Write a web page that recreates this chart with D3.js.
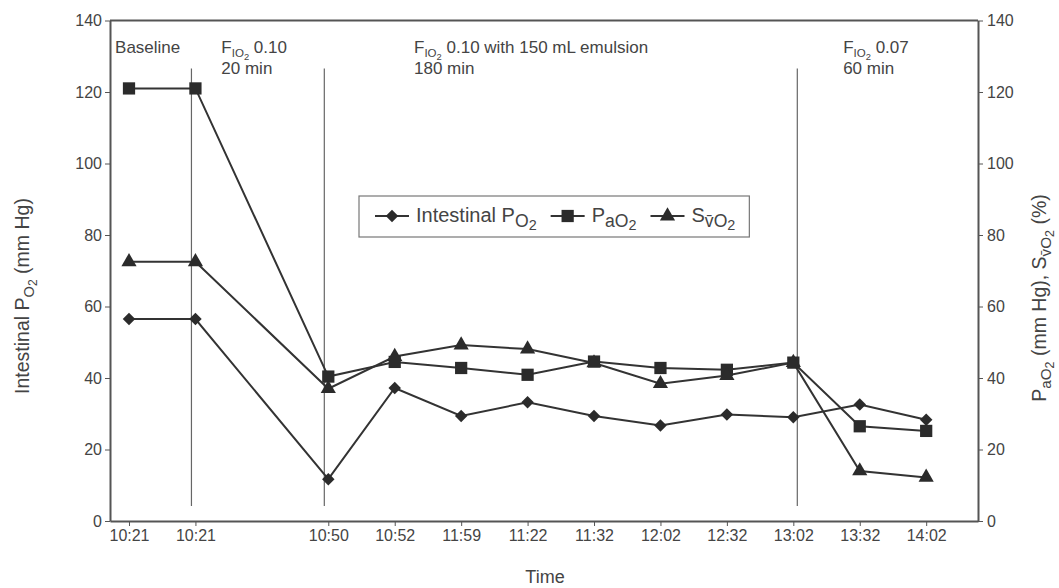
<!DOCTYPE html>
<html lang='en'>
  <head>
    <meta charset='utf-8'>
    <title>Intestinal PO2</title>
    <script type='text/javascript' src='https://cdnjs.cloudflare.com/ajax/libs/d3/7.8.5/d3.min.js'></script>
    <style type='text/css'>
      body { margin: 0; background: white; font-family: 'Liberation Sans', Arial, sans-serif; }
      svg { background-color: white; display: block; }
      .axis text { font-size: 16px; fill: #444; font-family: 'Liberation Sans', Arial, sans-serif; }
      .axis path, .axis line { stroke: #555; }
    </style>
  </head>
  <body>
    <div id='chart'></div>
    <script type='text/javascript'>

    // data
    var timeLabels = ['10:21', '10:21', '10:50', '10:52', '11:59', '11:22', '11:32', '12:02', '12:32', '13:02', '13:32', '14:02'];
    var timeSlots  = [0, 1, 3, 4, 5, 6, 7, 8, 9, 10, 11, 12];   // slot 2 is left empty on the axis
    var intestinalPO2 = [56.5, 56.5, 11.7, 37.2, 29.4, 33.2, 29.4, 26.7, 29.8, 29.0, 32.6, 28.3];
    var paO2          = [121, 121, 40.4, 44.5, 42.8, 40.9, 44.6, 42.8, 42.3, 44.3, 26.5, 25.2];
    var svO2          = [72.5, 72.5, 37.0, 46.0, 49.2, 48.1, 44.2, 38.4, 40.7, 44.3, 14.0, 12.2];
    var yTicks = [0, 20, 40, 60, 80, 100, 120, 140];
    var phaseLines = [0.94, 2.94, 10.06];

    // layout
    var W = 1059, H = 588;
    var mLeft = 110, mRight = 978, mTop = 20.5, mBottom = 521;

    var svg = d3.select('#chart').append('svg')
      .attr('width', W).attr('height', H);

    var x = d3.scaleLinear().domain([-0.286, 12.78]).range([mLeft, mRight]);
    var y = d3.scaleLinear().domain([0, 140]).range([mBottom, mTop]);

    // text with subscripts: parts = [[string, level], ...]
    function rich(sel, parts, size, k1, k2) {
      k1 = k1 || 0.72; k2 = k2 || 0.6;
      var cur = 0;
      parts.forEach(function(p) {
        var lvl = p[1];
        var shift = lvl === 0 ? 0 : (lvl === 1 ? 0.24 * size : 0.4 * size);
        var fs = lvl === 0 ? size : (lvl === 1 ? size * k1 : size * k2);
        sel.append('tspan')
          .attr('dy', shift - cur)
          .style('font-size', fs + 'px')
          .text(p[0]);
        cur = shift;
      });
    }

    // marker shapes: diamond is a square turned 45 degrees
    function marker(sel, kind, px, py) {
      var sym = kind === 'square' ? d3.symbolSquare : (kind === 'triangle' ? d3.symbolTriangle : d3.symbolSquare);
      var size = kind === 'square' ? 150 : (kind === 'triangle' ? 100 : 78);
      sel.attr('d', d3.symbol().type(sym).size(size))
        .attr('transform', 'translate(' + px + ',' + py + ')' + (kind === 'diamond' ? ' rotate(45)' : ''))
        .attr('fill', '#2b2b2b');
    }

    // phase boundary lines
    svg.append('g').selectAll('line')
      .data(phaseLines)
      .enter().append('line')
      .attr('x1', function(d) { return x(d); })
      .attr('x2', function(d) { return x(d); })
      .attr('y1', y(126.6))
      .attr('y2', y(4.2))
      .attr('stroke', '#666')
      .attr('stroke-width', 1.2);

    // axes
    var xAxis = d3.axisBottom(x)
      .tickValues(timeSlots)
      .tickFormat(function(d, i) { return timeLabels[i]; })
      .tickSize(5).tickSizeOuter(0).tickPadding(4);
    svg.append('g').attr('class', 'axis')
      .attr('transform', 'translate(0,' + mBottom + ')')
      .call(xAxis);

    var yLeft = d3.axisLeft(y).tickValues(yTicks).tickSize(5).tickSizeOuter(0).tickPadding(3);
    svg.append('g').attr('class', 'axis')
      .attr('transform', 'translate(' + mLeft + ',0)')
      .call(yLeft);

    var yRight = d3.axisRight(y).tickValues(yTicks).tickSize(5).tickSizeOuter(0).tickPadding(4);
    svg.append('g').attr('class', 'axis')
      .attr('transform', 'translate(' + mRight + ',0)')
      .call(yRight);

    // top frame
    svg.append('line')
      .attr('x1', mLeft).attr('x2', mRight).attr('y1', mTop).attr('y2', mTop)
      .attr('stroke', '#555').attr('stroke-width', 2);
    svg.selectAll('.axis path').attr('stroke-width', 2);

    // series
    var series = [
      { name: 'intestinal', values: intestinalPO2, kind: 'diamond' },
      { name: 'pao2', values: paO2, kind: 'square' },
      { name: 'svo2', values: svO2, kind: 'triangle' }
    ];

    var line = d3.line()
      .x(function(d, i) { return x(timeSlots[i]); })
      .y(function(d) { return y(d); });

    series.forEach(function(s) {
      svg.append('path')
        .datum(s.values)
        .attr('d', line)
        .attr('fill', 'none')
        .attr('stroke', '#333')
        .attr('stroke-width', 2);
    });
    series.forEach(function(s) {
      svg.append('g').selectAll('path')
        .data(s.values)
        .enter().append('path')
        .each(function(d, i) { marker(d3.select(this), s.kind, x(timeSlots[i]), y(d)); });
    });

    // phase annotations
    var notes = [
      { at: -0.21, lines: [[['Baseline', 0]]] },
      { at: 1.39,  lines: [[['F', 0], ['IO', 1], ['2', 2], [' 0.10', 0]], [['20 min', 0]]] },
      { at: 4.29,  lines: [[['F', 0], ['IO', 1], ['2', 2], [' 0.10 with 150 mL emulsion', 0]], [['180 min', 0]]] },
      { at: 10.75, lines: [[['F', 0], ['IO', 1], ['2', 2], [' 0.07', 0]], [['60 min', 0]]] }
    ];
    notes.forEach(function(n) {
      n.lines.forEach(function(parts, k) {
        var t = svg.append('text')
          .attr('x', x(n.at))
          .attr('y', 53 + k * 21)
          .attr('fill', '#444');
        rich(t, parts, 17, 0.68, 0.55);
      });
    });

    // axis titles
    svg.append('text')
      .attr('x', (mLeft + mRight) / 2 + 1)
      .attr('y', 583)
      .attr('text-anchor', 'middle')
      .attr('fill', '#444')
      .style('font-size', '18px')
      .text('Time');

    var lt = svg.append('text')
      .attr('transform', 'translate(29,' + 296 + ') rotate(-90)')
      .attr('text-anchor', 'middle')
      .attr('fill', '#444');
    rich(lt, [['Intestinal P', 0], ['O', 1], ['2', 2], [' (mm Hg)', 0]], 19.5, 0.75, 0.62);

    var rt = svg.append('text')
      .attr('transform', 'translate(1046,' + 298 + ') rotate(-90)')
      .attr('text-anchor', 'middle')
      .attr('fill', '#444');
    rich(rt, [['P', 0], ['aO', 1], ['2', 2], [' (mm Hg), S', 0], ['v\u0304O', 1], ['2', 2], [' (%)', 0]], 19.5, 0.78, 0.64);

    // legend
    var legendItems = [
      { parts: [['Intestinal P', 0], ['O', 1], ['2', 2]], kind: 'diamond' },
      { parts: [['P', 0], ['aO', 1], ['2', 2]], kind: 'square' },
      { parts: [['S', 0], ['v\u0304O', 1], ['2', 2]], kind: 'triangle' }
    ];
    var lg = svg.append('g');
    var box = lg.append('rect')
      .attr('x', 359).attr('y', 196).attr('height', 41)
      .attr('fill', 'white').attr('stroke', '#777').attr('stroke-width', 1.2);
    var cx = 375, cy = 216;
    legendItems.forEach(function(it) {
      lg.append('line')
        .attr('x1', cx).attr('x2', cx + 34).attr('y1', cy).attr('y2', cy)
        .attr('stroke', '#333').attr('stroke-width', 2);
      marker(lg.append('path'), it.kind, cx + 17, cy);
      var t = lg.append('text')
        .attr('x', cx + 41).attr('y', cy + 6)
        .attr('fill', '#444');
      rich(t, it.parts, 20, 0.88, 0.72);
      cx = cx + 41 + t.node().getComputedTextLength() + 14;
    });
    box.attr('width', cx - 359);

    </script>
  </body>
</html>
